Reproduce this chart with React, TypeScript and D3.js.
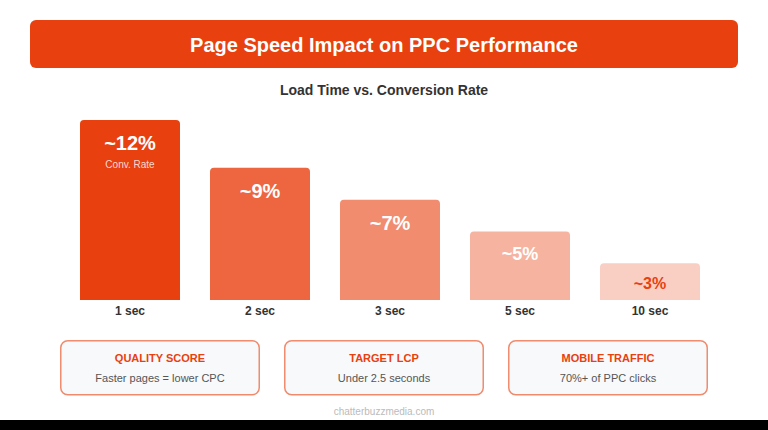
import React from "react";
import * as d3 from "d3";

// Conversion rate by page load time
const loadTimes = ["1 sec", "2 sec", "3 sec", "5 sec", "10 sec"];
const conversionRates = [12, 9, 7, 5, 3];
const rateLabels = ["~12%", "~9%", "~7%", "~5%", "~3%"];

// Summary cards under the chart
const cardTitles = ["QUALITY SCORE", "TARGET LCP", "MOBILE TRAFFIC"];
const cardTexts = ["Faster pages = lower CPC", "Under 2.5 seconds", "70%+ of PPC clicks"];

const W = 768;
const H = 430;
const BRAND = "#E8400F";
const FONT = "'Liberation Sans', Arial, Helvetica, sans-serif";

export default function App() {
  const x = d3
    .scaleBand<string>()
    .domain(loadTimes)
    .range([80, 700])
    .paddingInner(3 / 13)
    .paddingOuter(0);

  const baseline = 300;
  const y = d3.scaleLinear().domain([0.7, 12]).range([baseline, 120]);

  // fade the brand colour as load time grows
  const opacity = d3.scaleOrdinal<string, number>().domain(loadTimes).range([1, 0.8, 0.6, 0.4, 0.25]);
  const fill = (k: string) => d3.interpolateRgb("#ffffff", BRAND)(opacity(k));

  const labelSize = (v: number) => (v >= 7 ? 20 : v >= 5 ? 18 : 16);

  const cardX = d3
    .scaleBand<string>()
    .domain(cardTitles)
    .range([60, 708])
    .paddingInner(24 / 224)
    .paddingOuter(0);

  return (
    <div style={{ position: "fixed", left: 0, top: 0, width: W, height: H, overflow: "hidden" }}>
      <svg width={W} height={H} style={{ display: "block", fontFamily: FONT }}>
        <rect x={0} y={0} width={W} height={H} fill="#ffffff" />
        <rect x={0} y={420} width={W} height={10} fill="#000000" />

        {/* header */}
        <rect x={30} y={20} width={708} height={48} rx={6} fill={BRAND} />
        <text x={W / 2} y={51.5} textAnchor="middle" fill="#ffffff" fontSize={20} fontWeight="bold">
          Page Speed Impact on PPC Performance
        </text>
        <text x={W / 2} y={94.5} textAnchor="middle" fill="#333333" fontSize={14} fontWeight="bold">
          Load Time vs. Conversion Rate
        </text>

        {/* bars */}
        {loadTimes.map((k, i) => {
          const v = conversionRates[i];
          const bx = x(k)!;
          const bw = x.bandwidth();
          const top = y(v);
          const fs = labelSize(v);
          const light = opacity(k) < 0.3;
          return (
            <g key={k}>
              <path
                d={`M${bx},${baseline} V${top + 4} Q${bx},${top} ${bx + 4},${top} H${bx + bw - 4} Q${bx + bw},${top} ${bx + bw},${top + 4} V${baseline} Z`}
                fill={fill(k)}
              />
              <text
                x={bx + bw / 2}
                y={top + 10 + fs}
                textAnchor="middle"
                fill={light ? BRAND : "#ffffff"}
                fontSize={fs}
                fontWeight="bold"
              >
                {rateLabels[i]}
              </text>
              {i === 0 && (
                <text x={bx + bw / 2} y={top + 47.5} textAnchor="middle" fill="#ffffff" fillOpacity={0.8} fontSize={10}>
                  Conv. Rate
                </text>
              )}
              <text x={bx + bw / 2} y={315} textAnchor="middle" fill="#333333" fontSize={12} fontWeight="bold">
                {k}
              </text>
            </g>
          );
        })}

        {/* summary cards */}
        {cardTitles.map((t, i) => {
          const cx = cardX(t)!;
          const cw = cardX.bandwidth();
          return (
            <g key={t}>
              <rect
                x={cx + 0.75}
                y={340.75}
                width={cw - 1.5}
                height={54}
                rx={7}
                fill="#F8F9FA"
                stroke={BRAND}
                strokeOpacity={0.6}
                strokeWidth={1.5}
              />
              <text x={cx + cw / 2} y={361.5} textAnchor="middle" fill={BRAND} fontSize={11} fontWeight="bold">
                {t}
              </text>
              <text x={cx + cw / 2} y={382} textAnchor="middle" fill="#555555" fontSize={11}>
                {cardTexts[i]}
              </text>
            </g>
          );
        })}

        <text x={W / 2} y={414.5} textAnchor="middle" fill="#bbbbbb" fontSize={10}>
          chatterbuzzmedia.com
        </text>
      </svg>
    </div>
  );
}
